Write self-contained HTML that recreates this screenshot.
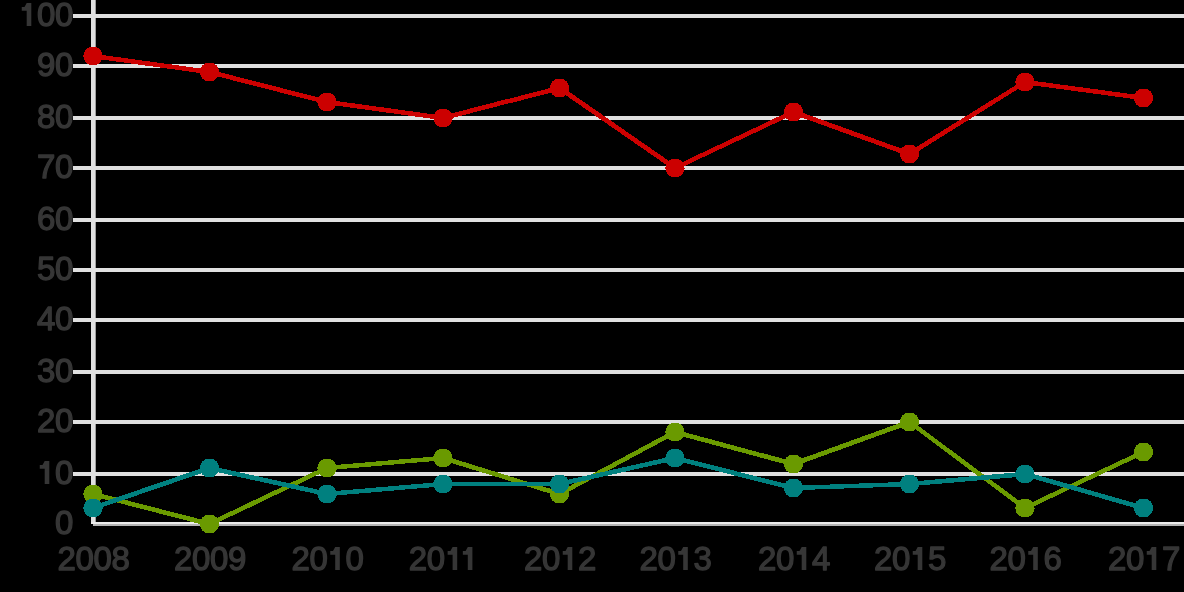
<!DOCTYPE html>
<html><head><meta charset="utf-8"><style>
html,body{margin:0;padding:0;background:#000;width:1184px;height:592px;overflow:hidden}
svg{display:block}
.g{fill:#363636}
.t{font-family:"Liberation Sans",sans-serif;font-size:33px;fill:#363636;stroke:#363636;stroke-width:1.3px;stroke-linejoin:round;letter-spacing:0px}
</style></head><body>
<svg width="1184" height="592" viewBox="0 0 1184 592">
<defs><filter id="q" x="0" y="0" width="1184" height="592" filterUnits="userSpaceOnUse"><feComponentTransfer><feFuncA type="discrete" tableValues="0 1"/></feComponentTransfer></filter></defs>
<rect x="73" y="14" width="1111" height="4" fill="#e0e0e0"/>
<rect x="73" y="64" width="1111" height="4" fill="#e0e0e0"/>
<rect x="73" y="116" width="1111" height="4" fill="#e0e0e0"/>
<rect x="73" y="166" width="1111" height="4" fill="#e0e0e0"/>
<rect x="73" y="218" width="1111" height="4" fill="#e0e0e0"/>
<rect x="73" y="268" width="1111" height="4" fill="#e0e0e0"/>
<rect x="73" y="318" width="1111" height="4" fill="#e0e0e0"/>
<rect x="73" y="370" width="1111" height="4" fill="#e0e0e0"/>
<rect x="73" y="420" width="1111" height="4" fill="#e0e0e0"/>
<rect x="73" y="472" width="1111" height="4" fill="#e0e0e0"/>
<rect x="91" y="0" width="4.7" height="524" fill="#e0e0e0"/>
<rect x="91" y="522" width="1093" height="2" fill="#ececec"/>
<rect x="93" y="524" width="1091" height="2" fill="#b4b4b4"/>
<g opacity="0.999">
<path class="g" d="M21.75,6.90 L24.50,6.90 L26.70,2.90 L31.30,2.90 L31.30,25.90 L26.70,25.90 L26.70,10.70 L21.75,10.70 Z"/>
<text x="36.90" y="25.9" class="t">0</text>
<text x="54.90" y="25.9" class="t">0</text>
<text x="36.90" y="75.9" class="t">9</text>
<text x="54.90" y="75.9" class="t">0</text>
<text x="36.90" y="127.9" class="t">8</text>
<text x="54.90" y="127.9" class="t">0</text>
<text x="36.90" y="177.9" class="t">7</text>
<text x="54.90" y="177.9" class="t">0</text>
<text x="36.90" y="229.9" class="t">6</text>
<text x="54.90" y="229.9" class="t">0</text>
<text x="36.90" y="279.9" class="t">5</text>
<text x="54.90" y="279.9" class="t">0</text>
<text x="36.90" y="329.9" class="t">4</text>
<text x="54.90" y="329.9" class="t">0</text>
<text x="36.90" y="381.9" class="t">3</text>
<text x="54.90" y="381.9" class="t">0</text>
<text x="36.90" y="431.9" class="t">2</text>
<text x="54.90" y="431.9" class="t">0</text>
<path class="g" d="M39.75,464.90 L42.50,464.90 L44.70,460.90 L49.30,460.90 L49.30,483.90 L44.70,483.90 L44.70,468.70 L39.75,468.70 Z"/>
<text x="54.90" y="483.9" class="t">0</text>
<text x="54.90" y="533.9" class="t">0</text>
<text x="57.40" y="570.0" class="t">2</text>
<text x="75.40" y="570.0" class="t">0</text>
<text x="93.40" y="570.0" class="t">0</text>
<text x="111.40" y="570.0" class="t">8</text>
<text x="173.90" y="570.0" class="t">2</text>
<text x="191.90" y="570.0" class="t">0</text>
<text x="209.90" y="570.0" class="t">0</text>
<text x="227.90" y="570.0" class="t">9</text>
<text x="291.40" y="570.0" class="t">2</text>
<text x="309.40" y="570.0" class="t">0</text>
<path class="g" d="M330.25,551.00 L333.00,551.00 L335.20,547.00 L339.80,547.00 L339.80,570.00 L335.20,570.00 L335.20,554.80 L330.25,554.80 Z"/>
<text x="345.40" y="570.0" class="t">0</text>
<text x="408.80" y="570.0" class="t">2</text>
<text x="426.80" y="570.0" class="t">0</text>
<path class="g" d="M447.65,551.00 L450.40,551.00 L452.60,547.00 L457.20,547.00 L457.20,570.00 L452.60,570.00 L452.60,554.80 L447.65,554.80 Z"/>
<path class="g" d="M462.85,551.00 L465.60,551.00 L467.80,547.00 L472.40,547.00 L472.40,570.00 L467.80,570.00 L467.80,554.80 L462.85,554.80 Z"/>
<text x="523.90" y="570.0" class="t">2</text>
<text x="541.90" y="570.0" class="t">0</text>
<path class="g" d="M562.75,551.00 L565.50,551.00 L567.70,547.00 L572.30,547.00 L572.30,570.00 L567.70,570.00 L567.70,554.80 L562.75,554.80 Z"/>
<text x="577.90" y="570.0" class="t">2</text>
<text x="639.40" y="570.0" class="t">2</text>
<text x="657.40" y="570.0" class="t">0</text>
<path class="g" d="M678.25,551.00 L681.00,551.00 L683.20,547.00 L687.80,547.00 L687.80,570.00 L683.20,570.00 L683.20,554.80 L678.25,554.80 Z"/>
<text x="693.40" y="570.0" class="t">3</text>
<text x="757.90" y="570.0" class="t">2</text>
<text x="775.90" y="570.0" class="t">0</text>
<path class="g" d="M796.75,551.00 L799.50,551.00 L801.70,547.00 L806.30,547.00 L806.30,570.00 L801.70,570.00 L801.70,554.80 L796.75,554.80 Z"/>
<text x="811.90" y="570.0" class="t">4</text>
<text x="873.90" y="570.0" class="t">2</text>
<text x="891.90" y="570.0" class="t">0</text>
<path class="g" d="M912.75,551.00 L915.50,551.00 L917.70,547.00 L922.30,547.00 L922.30,570.00 L917.70,570.00 L917.70,554.80 L912.75,554.80 Z"/>
<text x="927.90" y="570.0" class="t">5</text>
<text x="989.40" y="570.0" class="t">2</text>
<text x="1007.40" y="570.0" class="t">0</text>
<path class="g" d="M1028.25,551.00 L1031.00,551.00 L1033.20,547.00 L1037.80,547.00 L1037.80,570.00 L1033.20,570.00 L1033.20,554.80 L1028.25,554.80 Z"/>
<text x="1043.40" y="570.0" class="t">6</text>
<text x="1107.90" y="570.0" class="t">2</text>
<text x="1125.90" y="570.0" class="t">0</text>
<path class="g" d="M1146.75,551.00 L1149.50,551.00 L1151.70,547.00 L1156.30,547.00 L1156.30,570.00 L1151.70,570.00 L1151.70,554.80 L1146.75,554.80 Z"/>
<text x="1161.90" y="570.0" class="t">7</text>
</g>
<g fill="#cc0000" filter="url(#q)"><polyline points="93,56 209.5,72 327,102 443,118 559.5,88 675,168 793.5,112 909.5,154 1025,82 1143.5,98" fill="none" stroke="#cc0000" stroke-width="4.6" stroke-linejoin="round"/><circle cx="93" cy="56" r="9.6"/><circle cx="209.5" cy="72" r="9.6"/><circle cx="327" cy="102" r="9.6"/><circle cx="443" cy="118" r="9.6"/><circle cx="559.5" cy="88" r="9.6"/><circle cx="675" cy="168" r="9.6"/><circle cx="793.5" cy="112" r="9.6"/><circle cx="909.5" cy="154" r="9.6"/><circle cx="1025" cy="82" r="9.6"/><circle cx="1143.5" cy="98" r="9.6"/></g>
<g fill="#6a9a00" filter="url(#q)"><polyline points="93,494 209.5,524 327,468 443,458 559.5,494 675,432 793.5,464 909.5,422 1025,508 1143.5,452" fill="none" stroke="#6a9a00" stroke-width="4.6" stroke-linejoin="round"/><circle cx="93" cy="494" r="9.6"/><circle cx="209.5" cy="524" r="9.6"/><circle cx="327" cy="468" r="9.6"/><circle cx="443" cy="458" r="9.6"/><circle cx="559.5" cy="494" r="9.6"/><circle cx="675" cy="432" r="9.6"/><circle cx="793.5" cy="464" r="9.6"/><circle cx="909.5" cy="422" r="9.6"/><circle cx="1025" cy="508" r="9.6"/><circle cx="1143.5" cy="452" r="9.6"/></g>
<g fill="#00807f" filter="url(#q)"><polyline points="93,508 209.5,468 327,494 443,484 559.5,484 675,458 793.5,488 909.5,484 1025,474 1143.5,508" fill="none" stroke="#00807f" stroke-width="4.6" stroke-linejoin="round"/><circle cx="93" cy="508" r="9.6"/><circle cx="209.5" cy="468" r="9.6"/><circle cx="327" cy="494" r="9.6"/><circle cx="443" cy="484" r="9.6"/><circle cx="559.5" cy="484" r="9.6"/><circle cx="675" cy="458" r="9.6"/><circle cx="793.5" cy="488" r="9.6"/><circle cx="909.5" cy="484" r="9.6"/><circle cx="1025" cy="474" r="9.6"/><circle cx="1143.5" cy="508" r="9.6"/></g>
</svg>
</body></html>
